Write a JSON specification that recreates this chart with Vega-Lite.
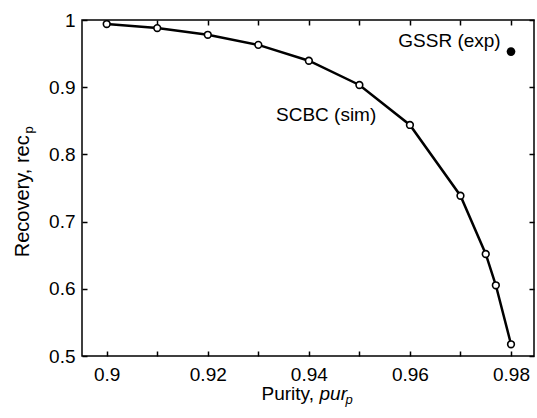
{
  "$schema": "https://vega.github.io/schema/vega-lite/v6.json",
  "width": 452,
  "height": 336,
  "autosize": {"type": "none"},
  "padding": {"left": 82, "top": 20, "right": 3, "bottom": 62},
  "background": "white",
  "config": {
    "font": "Liberation Sans",
    "view": {"stroke": "black", "strokeWidth": 1.5},
    "axis": {
      "grid": false,
      "domain": false,
      "ticks": true,
      "tickColor": "black",
      "tickWidth": 1.5,
      "tickSize": 5,
      "labelColor": "black",
      "labelFont": "Liberation Sans",
      "labelFontSize": 19,
      "titleColor": "black",
      "titleFont": "Liberation Sans",
      "titleFontSize": 19,
      "titleFontWeight": "normal"
    }
  },
  "datasets": {
    "scbc": [
      {"purity": 0.90, "recovery": 0.994},
      {"purity": 0.91, "recovery": 0.988},
      {"purity": 0.92, "recovery": 0.978},
      {"purity": 0.93, "recovery": 0.963},
      {"purity": 0.94, "recovery": 0.9394},
      {"purity": 0.95, "recovery": 0.9033},
      {"purity": 0.96, "recovery": 0.8438},
      {"purity": 0.97, "recovery": 0.7385},
      {"purity": 0.975, "recovery": 0.6518},
      {"purity": 0.977, "recovery": 0.6052},
      {"purity": 0.98, "recovery": 0.5174}
    ],
    "gssr": [
      {"purity": 0.98, "recovery": 0.953}
    ],
    "gssrLabel": [
      {"purity": 0.97796, "recovery": 0.9603, "label": "GSSR (exp)"}
    ],
    "scbcLabel": [
      {"purity": 0.9335, "recovery": 0.8497, "label": "SCBC (sim)"}
    ]
  },
  "resolve": {"axis": {"x": "independent", "y": "independent"}},
  "layer": [
    {
      "data": {"name": "scbc"},
      "mark": {"type": "line", "color": "black", "strokeWidth": 2.5},
      "encoding": {
        "x": {
          "field": "purity", "type": "quantitative",
          "scale": {"domain": [0.895113, 0.98455], "nice": false, "zero": false},
          "axis": {
            "orient": "bottom",
            "offset": -5,
            "values": [0.9, 0.91, 0.92, 0.93, 0.94, 0.95, 0.96, 0.97, 0.98],
            "format": "~g",
            "labelExpr": "round(datum.value * 100) % 2 == 0 ? datum.label : ''",
            "labelPadding": 9,
            "labelFlush": false,
            "labelOverlap": false,
            "title": "Purity,",
            "titleAlign": "left",
            "titleBaseline": "alphabetic",
            "titleX": 179,
            "titleY": 48
          }
        },
        "y": {
          "field": "recovery", "type": "quantitative",
          "scale": {"domain": [0.5, 1], "nice": false, "zero": false},
          "axis": {
            "orient": "left",
            "offset": -5,
            "values": [0.5, 0.6, 0.7, 0.8, 0.9, 1],
            "format": "~g",
            "labelPadding": 7,
            "labelFlush": false,
            "labelOverlap": false,
            "title": "Recovery, rec",
            "titleFontSize": 20,
            "titleAngle": -90,
            "titleAlign": "left",
            "titleBaseline": "alphabetic",
            "titleX": -59,
            "titleY": 236.7
          }
        }
      }
    },
    {
      "data": {"name": "scbc"},
      "mark": {"type": "point", "shape": "circle", "filled": true, "fill": "white", "stroke": "black", "strokeWidth": 1.6, "size": 45, "opacity": 1},
      "encoding": {
        "x": {
          "field": "purity", "type": "quantitative",
          "scale": {"domain": [0.895113, 0.98455], "nice": false, "zero": false},
          "axis": {
            "orient": "bottom",
            "ticks": false,
            "labels": false,
            "title": "pur",
            "titleFontStyle": "italic",
            "titleAlign": "left",
            "titleBaseline": "alphabetic",
            "titleX": 237,
            "titleY": 43
          }
        },
        "y": {
          "field": "recovery", "type": "quantitative",
          "scale": {"domain": [0.5, 1], "nice": false, "zero": false},
          "axis": null
        }
      }
    },
    {
      "data": {"name": "gssr"},
      "mark": {"type": "point", "shape": "circle", "filled": true, "color": "black", "size": 75, "opacity": 1},
      "encoding": {
        "x": {
          "field": "purity", "type": "quantitative",
          "scale": {"domain": [0.895113, 0.98455], "nice": false, "zero": false},
          "axis": {
            "orient": "top",
            "offset": -5,
            "values": [0.9, 0.91, 0.92, 0.93, 0.94, 0.95, 0.96, 0.97, 0.98],
            "labels": false,
            "title": null
          }
        },
        "y": {
          "field": "recovery", "type": "quantitative",
          "scale": {"domain": [0.5, 1], "nice": false, "zero": false},
          "axis": {
            "orient": "right",
            "offset": -5,
            "values": [0.5, 0.6, 0.7, 0.8, 0.9, 1],
            "labels": false,
            "title": null
          }
        }
      }
    },
    {
      "data": {"name": "gssrLabel"},
      "mark": {"type": "text", "align": "right", "baseline": "alphabetic", "font": "Liberation Sans", "fontSize": 19, "color": "black"},
      "encoding": {
        "x": {
          "field": "purity", "type": "quantitative",
          "scale": {"domain": [0.895113, 0.98455], "nice": false, "zero": false},
          "axis": {
            "orient": "bottom",
            "ticks": false,
            "labels": false,
            "title": "p",
            "titleFontStyle": "italic",
            "titleFontSize": 13,
            "titleAlign": "left",
            "titleBaseline": "alphabetic",
            "titleX": 263,
            "titleY": 47
          }
        },
        "y": {
          "field": "recovery", "type": "quantitative",
          "scale": {"domain": [0.5, 1], "nice": false, "zero": false},
          "axis": {
            "orient": "left",
            "ticks": false,
            "labels": false,
            "title": "p",
            "titleFontSize": 13,
            "titleAngle": -90,
            "titleAlign": "left",
            "titleBaseline": "alphabetic",
            "titleX": -50,
            "titleY": 113
          }
        },
        "text": {"field": "label"}
      }
    },
    {
      "data": {"name": "scbcLabel"},
      "mark": {"type": "text", "align": "left", "baseline": "alphabetic", "font": "Liberation Sans", "fontSize": 19, "color": "black"},
      "encoding": {
        "x": {
          "field": "purity", "type": "quantitative",
          "scale": {"domain": [0.895113, 0.98455], "nice": false, "zero": false},
          "axis": null
        },
        "y": {
          "field": "recovery", "type": "quantitative",
          "scale": {"domain": [0.5, 1], "nice": false, "zero": false},
          "axis": null
        },
        "text": {"field": "label"}
      }
    }
  ]
}
